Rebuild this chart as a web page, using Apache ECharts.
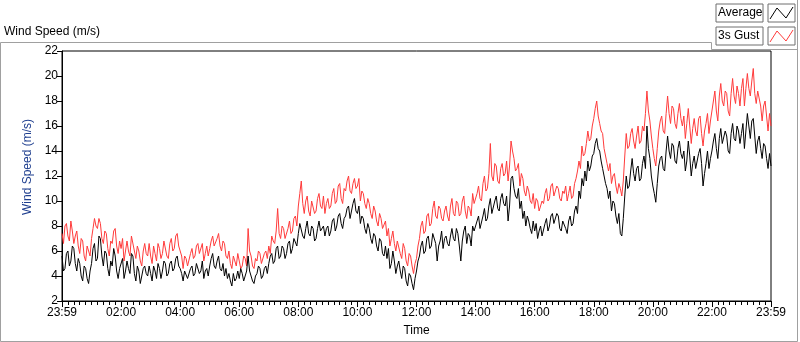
<!DOCTYPE html>
<html>
<head>
<meta charset="utf-8">
<title>Wind Speed (m/s)</title>
<script src="https://cdn.jsdelivr.net/npm/echarts@6/dist/echarts.min.js"></script>
<style>
    html, body { margin: 0; padding: 0; background: #fff; }
    #chart { width: 800px; height: 342px; }
</style>
</head>
<body>
<div id="chart"></div>
<script>
'use strict';

// one sample every 3 minutes, two rows of 10 samples = one hour
var stepMinutes = 3;

var timeLabels = ['23:59', '02:00', '04:00', '06:00', '08:00', '10:00', '12:00',
    '14:00', '16:00', '18:00', '20:00', '22:00', '23:59'];

var avgSpeed = [
    5.6, 4.4, 4.6, 5.8, 6.0, 4.8, 5.2, 6.4, 6.2, 5.0,
    4.4, 5.4, 5.0, 4.0, 3.6, 4.8, 4.6, 3.8, 3.4, 4.4,
    5.0, 6.2, 6.6, 5.2, 5.4, 7.2, 7.0, 5.6, 4.8, 6.0,
    5.8, 4.6, 4.0, 5.2, 4.8, 6.2, 5.6, 4.4, 3.8, 4.6,
    4.6, 5.4, 3.8, 4.4, 5.2, 4.6, 4.2, 5.8, 5.6, 4.2,
    3.6, 4.8, 4.4, 3.4, 3.4, 4.6, 4.8, 4.2, 4.0, 4.8,
    4.2, 3.6, 4.8, 4.4, 3.8, 5.0, 4.6, 3.8, 4.4, 5.2,
    5.0, 4.0, 4.2, 5.0, 5.2, 4.4, 4.6, 5.4, 5.6, 4.8,
    4.6, 4.2, 3.6, 4.4, 4.4, 3.8, 3.8, 4.6, 4.8, 4.0,
    4.2, 5.0, 5.0, 4.2, 4.4, 5.2, 3.8, 4.4, 4.6, 4.0,
    4.8, 5.4, 5.8, 4.8, 4.6, 5.2, 5.6, 4.6, 4.4, 5.0,
    4.0, 4.6, 3.8, 4.2, 3.6, 3.2, 4.2, 3.6, 3.8, 4.4,
    3.8, 4.6, 4.2, 3.6, 3.6, 4.4, 5.6, 4.4, 4.0, 3.6,
    3.4, 4.0, 4.2, 4.8, 4.6, 3.8, 4.0, 4.6, 4.8, 4.2,
    5.0, 5.6, 5.8, 5.0, 5.2, 6.2, 6.4, 5.4, 5.6, 6.4,
    6.2, 5.4, 5.8, 6.6, 6.8, 5.8, 6.2, 7.0, 7.0, 6.4,
    7.4, 8.2, 8.2, 7.2, 7.0, 7.8, 8.4, 7.4, 7.2, 8.0,
    7.8, 6.8, 7.0, 7.8, 8.4, 7.6, 7.6, 8.0, 7.2, 7.8,
    8.0, 7.2, 7.6, 8.4, 8.6, 7.6, 8.0, 8.8, 9.0, 8.2,
    7.8, 8.6, 8.8, 9.4, 9.6, 8.6, 8.6, 9.8, 10.2, 9.2,
    9.0, 9.6, 8.2, 8.8, 8.6, 7.8, 7.4, 8.2, 7.8, 7.0,
    6.6, 7.4, 7.2, 6.4, 6.0, 7.0, 6.8, 5.8, 5.6, 6.4,
    5.4, 6.2, 4.6, 5.0, 6.0, 5.2, 4.2, 4.8, 5.2, 4.4,
    3.8, 4.8, 4.6, 3.6, 3.2, 4.2, 4.0, 3.4, 2.9, 3.8,
    4.4, 5.2, 5.6, 6.4, 6.8, 5.8, 6.0, 7.0, 7.2, 6.2,
    6.4, 7.4, 7.4, 6.6, 5.2, 6.4, 6.8, 7.6, 6.2, 7.0,
    7.2, 6.6, 6.4, 7.2, 7.8, 7.0, 6.8, 7.8, 7.4, 6.4,
    5.2, 6.8, 7.6, 8.0, 6.6, 7.4, 7.2, 6.4, 8.0, 7.6,
    7.6, 8.4, 8.8, 7.8, 7.8, 8.8, 9.4, 8.4, 8.6, 9.6,
    10.2, 9.0, 9.0, 10.0, 10.4, 9.4, 9.2, 10.2, 10.6, 9.8,
    9.6, 10.4, 8.4, 9.6, 11.8, 12.0, 11.0, 10.4, 10.2, 11.0,
    9.4, 10.0, 8.6, 9.2, 8.0, 8.8, 8.4, 7.8, 7.4, 8.4,
    7.6, 8.2, 7.0, 7.6, 8.0, 7.2, 7.2, 8.2, 8.6, 7.6,
    8.0, 8.8, 9.0, 8.2, 8.2, 9.0, 8.8, 7.8, 7.6, 8.4,
    8.4, 7.8, 7.4, 8.4, 8.8, 8.0, 8.2, 9.2, 9.6, 9.0,
    10.8, 10.2, 11.8, 11.2, 12.4, 11.6, 13.2, 12.4, 12.8, 13.6,
    13.8, 14.6, 15.0, 14.2, 14.0, 13.2, 12.6, 12.0, 11.4, 11.0,
    10.2, 10.8, 9.2, 10.0, 9.8, 8.8, 8.2, 9.0, 7.4, 7.2,
    8.6, 10.4, 12.0, 11.0, 11.2, 12.4, 13.4, 12.2, 11.6, 12.6,
    12.8, 11.6, 11.8, 13.0, 13.6, 12.6, 16.0, 14.2, 13.4, 12.0,
    11.2, 10.6, 9.9, 11.4, 12.8, 13.4, 13.6, 12.6, 12.4, 14.0,
    15.2, 14.0, 13.4, 14.6, 14.4, 13.2, 13.0, 14.2, 14.8, 13.8,
    13.4, 14.0, 12.4, 13.2, 14.8, 13.6, 12.0, 13.0, 13.6, 12.6,
    12.6, 13.8, 14.2, 13.0, 11.2, 12.2, 13.0, 14.0, 12.6, 13.4,
    14.0, 14.8, 15.4, 14.2, 13.4, 15.0, 15.8, 14.6, 14.6, 15.6,
    15.2, 14.0, 13.8, 15.4, 16.2, 15.0, 14.8, 16.0, 15.6, 14.6,
    15.4, 16.2, 14.2, 15.6, 17.0, 16.0, 15.0, 16.4, 16.6, 15.2,
    13.8, 14.8, 15.2, 14.2, 13.4, 14.6, 14.4, 13.4, 12.6, 13.8,
    12.8
];

var gustSpeed = [
    7.4, 6.6, 8.0, 8.2, 7.2, 6.8, 8.4, 7.6, 6.6, 7.2,
    7.6, 6.4, 5.8, 7.0, 6.8, 5.6, 5.2, 6.4, 6.4, 5.6,
    7.0, 7.8, 8.6, 8.0, 7.8, 8.6, 8.2, 7.0, 6.6, 7.6,
    7.4, 6.2, 5.6, 6.8, 6.6, 7.6, 7.8, 6.4, 5.8, 6.8,
    6.2, 7.0, 5.2, 6.0, 6.8, 6.0, 5.6, 7.2, 7.2, 6.0,
    5.4, 6.4, 6.0, 5.2, 4.8, 6.0, 6.6, 5.8, 5.6, 6.6,
    5.6, 5.0, 6.4, 5.8, 5.2, 6.6, 6.2, 5.4, 5.8, 6.8,
    6.8, 5.6, 5.4, 6.6, 7.0, 6.0, 6.2, 7.2, 7.4, 6.4,
    6.0, 5.6, 4.6, 5.6, 5.4, 4.8, 4.8, 5.8, 6.2, 5.4,
    5.6, 6.4, 6.6, 5.8, 5.8, 6.6, 5.2, 5.8, 6.4, 5.6,
    6.2, 6.8, 7.2, 6.4, 6.4, 7.0, 7.4, 6.4, 6.0, 6.8,
    6.6, 5.6, 5.4, 6.0, 5.0, 4.6, 5.6, 5.2, 4.8, 5.8,
    5.2, 4.6, 4.8, 5.6, 5.4, 4.8, 7.8, 6.0, 5.6, 4.8,
    4.6, 5.4, 5.2, 6.0, 5.8, 5.0, 5.0, 5.8, 6.0, 5.4,
    6.4, 5.8, 7.2, 6.8, 6.6, 7.6, 9.4, 7.4, 7.0, 8.0,
    7.8, 7.0, 7.0, 7.8, 8.4, 7.4, 7.6, 8.6, 8.8, 8.0,
    9.6, 10.6, 11.6, 9.8, 9.0, 10.0, 10.4, 9.2, 8.8, 10.0,
    10.0, 9.0, 9.2, 10.2, 10.6, 9.6, 9.4, 10.4, 9.0, 9.8,
    10.2, 9.4, 9.6, 10.6, 11.0, 9.8, 10.0, 11.2, 11.4, 10.2,
    9.8, 11.0, 10.8, 11.6, 12.0, 10.8, 10.6, 11.4, 11.8, 11.0,
    11.2, 11.8, 10.0, 10.8, 10.6, 9.8, 9.4, 10.2, 9.8, 9.0,
    8.6, 9.6, 9.2, 8.4, 8.0, 9.0, 8.6, 7.8, 7.8, 8.4,
    7.2, 7.8, 6.4, 7.0, 7.6, 6.6, 6.0, 6.8, 6.8, 5.8,
    5.4, 6.6, 6.2, 5.2, 4.8, 5.8, 5.6, 4.8, 4.2, 5.0,
    5.4, 6.4, 7.0, 8.0, 8.4, 7.4, 7.6, 8.8, 9.0, 8.0,
    8.2, 9.4, 10.0, 8.8, 8.6, 9.6, 9.4, 8.6, 8.4, 9.2,
    9.6, 8.8, 8.4, 9.6, 10.2, 9.0, 8.8, 10.0, 9.8, 8.8,
    9.0, 10.0, 10.4, 9.2, 8.6, 9.6, 9.4, 8.8, 10.6, 9.8,
    9.8, 10.6, 11.2, 10.2, 10.0, 11.4, 12.0, 10.8, 11.0, 12.2,
    14.6, 12.0, 11.6, 13.0, 12.8, 11.6, 11.4, 12.6, 13.0, 12.0,
    12.2, 13.2, 11.6, 12.8, 14.8, 14.0, 13.4, 12.4, 12.6, 13.0,
    11.2, 12.2, 11.8, 10.8, 10.4, 11.2, 10.8, 10.0, 9.8, 10.6,
    9.4, 10.2, 10.0, 9.2, 9.2, 10.0, 9.8, 10.6, 11.0, 10.0,
    10.2, 11.2, 11.4, 10.4, 10.4, 11.2, 11.0, 10.2, 10.0, 10.8,
    10.6, 11.2, 10.0, 10.6, 11.2, 10.2, 10.4, 11.4, 11.8, 12.4,
    13.2, 12.6, 14.4, 13.6, 13.8, 14.6, 15.6, 14.8, 15.0, 16.0,
    16.6, 17.4, 18.0, 16.8, 16.2, 15.6, 15.4, 14.2, 13.6, 13.0,
    12.4, 13.0, 11.4, 12.0, 12.2, 11.2, 10.6, 11.4, 11.0, 10.4,
    11.6, 13.6, 15.4, 14.2, 14.4, 15.4, 15.8, 14.8, 14.2, 15.2,
    16.0, 14.6, 14.8, 16.0, 15.6, 17.0, 18.8, 17.2, 16.4, 15.2,
    14.2, 13.4, 12.8, 14.2, 15.6, 16.4, 16.8, 15.6, 15.4, 17.0,
    18.4, 17.0, 16.2, 17.6, 17.4, 16.2, 15.8, 17.0, 17.8, 16.6,
    16.0, 16.8, 15.0, 16.2, 17.4, 16.0, 14.6, 15.8, 16.6, 15.6,
    15.2, 16.6, 16.8, 15.4, 14.4, 15.6, 16.2, 17.0, 15.4, 16.4,
    17.2, 18.0, 18.8, 17.2, 16.4, 18.4, 19.4, 18.0, 17.6, 18.8,
    18.6, 17.2, 16.8, 18.6, 19.8, 18.4, 17.8, 19.2, 18.6, 17.6,
    19.0, 19.8, 17.6, 19.0, 20.2, 19.0, 18.4, 19.6, 20.6, 18.6,
    17.8, 18.8, 18.8, 17.6, 16.4, 17.6, 18.0, 16.8, 15.6, 17.0,
    16.0
];

var fontFamily = '"Liberation Sans", Arial, sans-serif';

function toPoints(values) {
    return values.map(function (v, i) {
        return [i * stepMinutes, v];
    });
}

// legend entry: boxed name plus a small swatch with a zigzag line
function legendItem(name, color, top) {
    return [
        {
            type: 'rect',
            shape: { x: 716, y: top, width: 47, height: 18 },
            style: { fill: '#fff', stroke: '#6f6f6f', lineWidth: 1 }
        },
        {
            type: 'text',
            x: 718, y: top + 9,
            style: { text: name, fill: '#000', font: '12px ' + fontFamily, verticalAlign: 'middle' }
        },
        {
            type: 'rect',
            shape: { x: 768, y: top, width: 27, height: 18 },
            style: { fill: '#fff', stroke: '#6f6f6f', lineWidth: 1 }
        },
        {
            type: 'polyline',
            shape: { points: [[770, top + 15], [777, top + 4], [786, top + 14], [793, top + 3]] },
            style: { stroke: color, fill: null, lineWidth: 1 }
        }
    ];
}

var chart = echarts.init(document.getElementById('chart'), null, { renderer: 'canvas' });

var graphics = [
    // outer frame lines
    {
        type: 'polyline',
        shape: { points: [[711.5, 42.5], [0.5, 42.5], [0.5, 341.5], [797.5, 341.5], [797.5, 0]] },
        style: { stroke: '#a0a0a0', fill: null, lineWidth: 1 }
    },
    {
        type: 'polyline',
        shape: { points: [[711.5, 42.5], [711.5, 49.5], [797.5, 49.5]] },
        style: { stroke: '#a0a0a0', fill: null, lineWidth: 1 }
    },
    {
        type: 'text',
        x: 4, y: 32,
        style: { text: 'Wind Speed (m/s)', fill: '#000', font: '12px ' + fontFamily, verticalAlign: 'middle' }
    }
].concat(legendItem('Average', '#000', 4), legendItem('3s Gust', '#ff3b3b', 27));

var option = {
    animation: false,
    backgroundColor: '#fff',
    grid: {
        left: 62,
        right: 29,
        top: 51,
        bottom: 38,
        show: true,
        borderColor: '#000',
        borderWidth: 1,
        backgroundColor: '#fff'
    },
    xAxis: {
        type: 'value',
        min: 0,
        max: 1440,
        interval: 120,
        name: 'Time',
        nameLocation: 'middle',
        nameGap: 24,
        nameTextStyle: { color: '#000', fontSize: 12, fontFamily: fontFamily },
        axisLine: { lineStyle: { color: '#000', width: 1 } },
        axisTick: { length: 6, lineStyle: { color: '#000' } },
        minorTick: { show: true, splitNumber: 10, length: 4, lineStyle: { color: '#000' } },
        splitLine: { show: false },
        axisLabel: {
            color: '#000',
            fontSize: 12,
            fontFamily: fontFamily,
            margin: 6,
            showMinLabel: true,
            showMaxLabel: true,
            formatter: function (v) {
                return timeLabels[Math.round(v / 120)];
            }
        }
    },
    yAxis: {
        type: 'value',
        min: 2,
        max: 22,
        interval: 2,
        name: 'Wind Speed (m/s)',
        nameLocation: 'middle',
        nameGap: 23,
        nameTextStyle: { color: '#1f3f8f', fontSize: 12, fontFamily: fontFamily, padding: [0, 0, 0, 18] },
        axisLine: { show: true, lineStyle: { color: '#000', width: 1 } },
        axisTick: { show: true, length: 5, lineStyle: { color: '#000' } },
        splitLine: { show: false },
        axisLabel: { color: '#000', fontSize: 12, fontFamily: fontFamily, margin: 4 }
    },
    series: [
        {
            name: '3s Gust',
            type: 'line',
            data: toPoints(gustSpeed),
            showSymbol: false,
            symbol: 'none',
            lineStyle: { color: '#ff3b3b', width: 1 },
            z: 2
        },
        {
            name: 'Average',
            type: 'line',
            data: toPoints(avgSpeed),
            showSymbol: false,
            symbol: 'none',
            lineStyle: { color: '#000', width: 1 },
            z: 3
        }
    ],
    graphic: graphics
};

chart.setOption(option);
</script>
</body>
</html>
